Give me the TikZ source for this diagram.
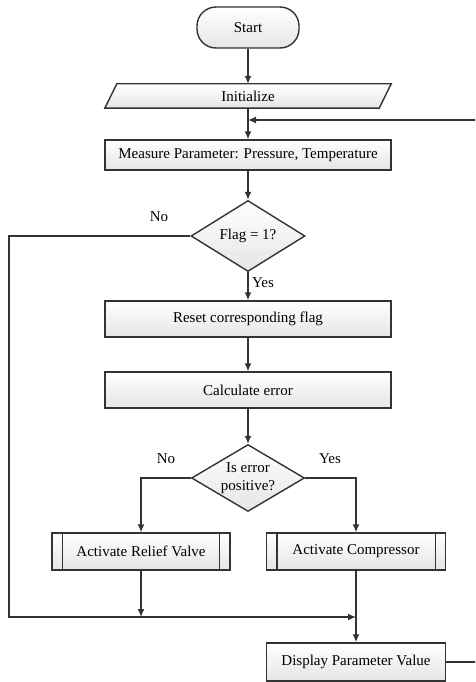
\documentclass[tikz,border=0pt]{standalone}
\usepackage{fontspec}
\setmainfont{Liberation Serif}
\usetikzlibrary{shapes.geometric,arrows.meta,backgrounds}

\begin{document}
\begin{tikzpicture}[x=1pt,y=-1pt,
    >={Latex[length=8pt,width=7pt]},
    every node/.style={font=\fontsize{15}{18}\selectfont},
    shade/.style={top color=white,bottom color=black!10},
    box/.style={draw=black!80,line width=1.4pt,shade,inner sep=0pt},
    term/.style={box,rectangle,rounded corners=19pt,minimum width=102pt,minimum height=41pt},
    io/.style={rectangle,inner sep=0pt,minimum width=286pt,minimum height=24pt},
    proc/.style={box,rectangle,minimum width=286pt,minimum height=36pt},
    subproc/.style={box,rectangle,minimum width=178pt,minimum height=37pt},
    decision/.style={box,diamond,align=center,minimum width=114pt,minimum height=71pt},
    line/.style={draw=black!80,line width=1.4pt}]
  \useasboundingbox (0,0) rectangle (475,682);
  \clip (0,0) rectangle (475,682);

  \node[term] (start) at (248,27.5) {Start};
  \node[io] (init) at (248,96) {Initialize};
  \node[proc,minimum height=30pt] (measure) at (248,155) {Measure Parameter: Pressure, Temperature};
  \node[decision] (flag) at (248,236) {Flag = 1?};
  \node[proc] (reset) at (248,319) {Reset corresponding flag};
  \node[proc] (calc) at (248,390) {Calculate error};
  \node[decision,aspect=1.75,minimum width=113pt,minimum height=67pt] (errpos) at (248,478) {Is error\\positive?};
  \node[subproc] (relief) at (141,551.5) {Activate Relief Valve};
  \node[subproc,minimum width=179pt] (comp) at (356,551.5) {Activate Compressor};
  \node[box,minimum width=179pt,minimum height=38pt] (display) at (356,662) {Display Parameter Value};

  \begin{scope}[on background layer]
    \draw[line,shade] ([xshift=12pt]init.north west) -- (init.north east)
      -- ([xshift=-12pt]init.south east) -- (init.south west) -- cycle;
  \end{scope}
  \foreach \n in {relief,comp} {
    \draw[line] ([xshift=11pt]\n.north west) -- ([xshift=11pt]\n.south west);
    \draw[line] ([xshift=-11pt]\n.north east) -- ([xshift=-11pt]\n.south east);
  }

  \coordinate (loopin) at (248,120);
  \coordinate (loopup) at (478,120);
  \coordinate (loopdn) at (478,662);
  \coordinate (noleft) at (9,236);
  \coordinate (nodown) at (9,617);
  \coordinate (merge) at (356,617);
  \coordinate (relmerge) at (141,617);
  \coordinate (errno) at (141,478);
  \coordinate (erryes) at (356,478);

  \draw[line,->] (start) -- (init);
  \draw[line,->] (init) -- (measure);
  \draw[line,->] (display.east) -- (loopdn) -- (loopup) -- (loopin);
  \draw[line,->] (measure) -- (flag);
  \draw[line,->] (flag.south) -- (reset);
  \draw[line,->] (flag.west) -- (noleft) -- (nodown) -- (merge);
  \draw[line,->] (reset) -- (calc);
  \draw[line,->] (calc) -- (errpos);
  \draw[line,->] (errpos.west) -- (errno) -- (relief.north);
  \draw[line,->] (errpos.east) -- (erryes) -- (comp.north);
  \draw[line,->] (relief.south) -- (relmerge);
  \draw[line,->] (comp.south) -- (display.north);

  \node (flagno) at (159,217) {No};
  \node (flagyes) at (263,283) {Yes};
  \node (errnolbl) at (166,459) {No};
  \node (erryeslbl) at (330,459) {Yes};
\end{tikzpicture}
\end{document}
